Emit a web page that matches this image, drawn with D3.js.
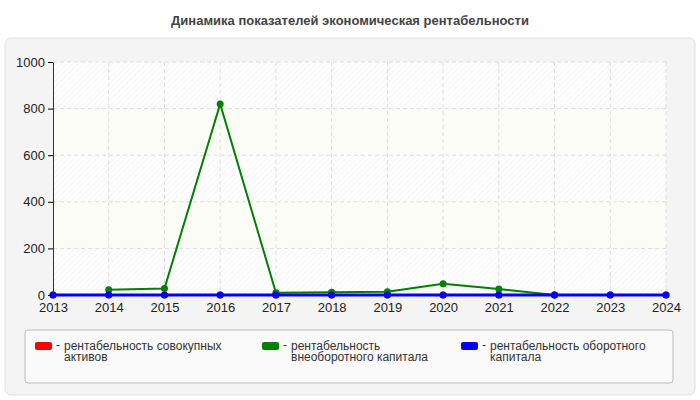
<!DOCTYPE html>
<html><head><meta charset="utf-8">
<script src="https://cdn.jsdelivr.net/npm/d3@7"></script>
<style>body{margin:0;background:#fff;font-family:"Liberation Sans",Arial,sans-serif}</style>
</head><body>
<script>
var years = [2013,2014,2015,2016,2017,2018,2019,2020,2021,2022,2023,2024]
var assets = [0,0,0,0,0,0,0,0,0,0,0,0]
var nonCurrent = [null,22,28,820,10,12,14,48,26,0,null,null]
var current = [0,0,0,0,0,0,0,0,0,0,0,0]
var yTicks = [0,200,400,600,800,1000]
var colors = ["#ff0000","#008000","#0000ff"]
var lines = [["рентабельность совокупных","активов"],["рентабельность","внеоборотного капитала"],["рентабельность оборотного","капитала"]]

var svg = d3.select('body').append('svg').attr('width', 700).attr('height', 400)
  .style("font-family","'Liberation Sans',Arial,sans-serif")
svg.append("text").attr("x",350).attr("y",25).attr("text-anchor","middle")
  .attr("font-size",13).attr("font-weight","bold").attr("fill","#444")
  .text("Динамика показателей экономическая рентабельности")
svg.append("rect").attr("x",5).attr("y",38).attr("width",690).attr("height",357).attr("rx",6)
  .attr("fill","#f4f4f4").attr("stroke","#e2e2e2")

var defs = svg.append("defs")
var pat = defs.append("pattern").attr("id","hatch").attr("width",4).attr("height",4)
  .attr("patternUnits","userSpaceOnUse").attr("patternTransform","rotate(45)")
pat.append("rect").attr("width",4).attr("height",4).attr("fill","#fff")
pat.append("line").attr("x1",0).attr("y1",0).attr("x2",0).attr("y2",4).attr("stroke","#ececec").attr("stroke-width",1)

var x = d3.scalePoint().domain(years).range([53,666])
var y = d3.scaleLinear().domain([0,1000]).range([295,62])

for (var i = 0; i < yTicks.length-1; i++) {
  svg.append("rect").attr("x",53).attr("width",613)
    .attr("y",y(yTicks[i+1])).attr("height",y(yTicks[i])-y(yTicks[i+1]))
    .attr("fill", i%2==0 ? "url(#hatch)" : "#fdfdf8")
}
svg.append("g").selectAll("line").data(yTicks.slice(1)).enter().append("line")
  .attr("x1",53).attr("x2",666).attr("y1",d=>y(d)).attr("y2",d=>y(d))
  .attr("stroke","#ddd").attr("stroke-dasharray","4,3")
svg.append("g").selectAll("line").data(years.slice(1)).enter().append("line")
  .attr("x1",d=>x(d)).attr("x2",d=>x(d)).attr("y1",62).attr("y2",295)
  .attr("stroke","#ddd").attr("stroke-dasharray","4,3")

var ya = svg.append("g").attr("transform","translate(53,0)")
  .call(d3.axisLeft(y).tickValues(yTicks).tickFormat(d3.format("d")).tickSize(5).tickSizeOuter(0))
var xa = svg.append("g").attr("transform","translate(0,295)")
  .call(d3.axisBottom(x).tickSize(0).tickPadding(8))
;[ya,xa].forEach(a=>{a.selectAll("text").attr("font-size",13).attr("fill","#222").attr("font-family","'Liberation Sans',Arial");a.select(".domain").attr("stroke","#333")})

var line = d3.line().defined(d=>d[1]!=null).x(d=>x(d[0])).y(d=>y(d[1]))
;[assets,nonCurrent,current].forEach(function(s,k){
  var pts = years.map((yr,i)=>[yr,s[i]])
  svg.append("path").attr("d",line(pts)).attr("fill","none").attr("stroke",colors[k]).attr("stroke-width",k==2?3:2)
  svg.append("g").selectAll("circle").data(pts.filter(p=>p[1]!=null)).enter().append("circle")
    .attr("cx",p=>x(p[0])).attr("cy",p=>y(p[1])).attr("r",3.5).attr("fill",colors[k])
})

svg.append("rect").attr("x",25).attr("y",330).attr("width",648).attr("height",53).attr("rx",3)
  .attr("fill","#fafafa").attr("stroke","#bbb")
var lx = [35,262,461]
lines.forEach(function(t,k){
  svg.append("rect").attr("x",lx[k]).attr("y",342).attr("width",17).attr("height",8).attr("rx",2).attr("fill",colors[k])
  svg.append("text").attr("x",lx[k]+21).attr("y",349).attr("font-size",12).attr("fill","#333").text("-")
  var tx = svg.append("text").attr("x",lx[k]+29).attr("y",350).attr("font-size",12).attr("fill","#333")
  t.forEach((s,j)=>tx.append("tspan").attr("x",lx[k]+29).attr("dy",j?11:0).text(s))
})
</script>
</body></html>
